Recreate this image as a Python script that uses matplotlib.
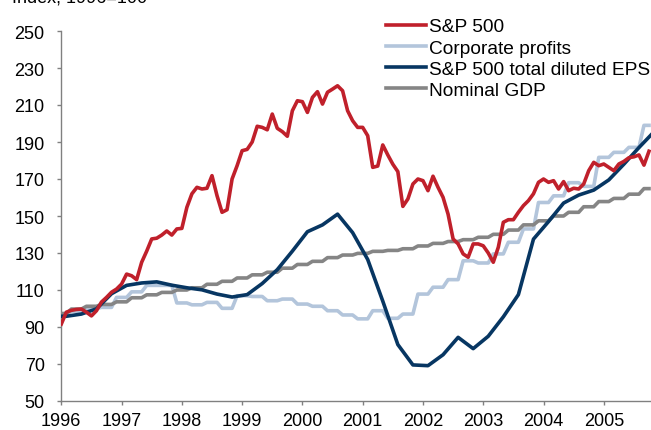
import numpy as np
import matplotlib
matplotlib.use("Agg")
import matplotlib.pyplot as plt

plt.rcParams['font.family'] = ['Liberation Sans', 'DejaVu Sans']

# ---------------- data ----------------
labels = ["S&P 500", "Corporate profits", "S&P 500 total diluted EPS", "Nominal GDP"]
title = "Index, 1996=100"
year_ticks = [1996, 1997, 1998, 1999, 2000, 2001, 2002, 2003, 2004, 2005]
y_ticks = [50, 70, 90, 110, 130, 150, 170, 190, 210, 230, 250]

# monthly, Jan 1996 ..
sp500 = [91.6, 98, 99, 99.5, 99.7, 98, 96, 98.8, 103.5, 106,
         108.8, 110.5, 113.2, 118.6, 117.7, 115.6, 125, 131, 137.6, 138,
         139.7, 141.9, 139.7, 143, 143.3, 154.7, 162, 165.5, 164.6, 165,
         171.8, 161, 152, 153.4, 170, 177.2, 185.3, 186, 190, 198.5,
         197.9, 196.6, 205.1, 197.4, 195.6, 193.1, 206.9, 212.3, 211.8, 206,
         214.1, 217.2, 210.5, 216.9, 218.6, 220.4, 217.7, 206.9, 201.5, 197.9,
         197.9, 193.4, 176.3, 177, 188.4, 183, 178, 174, 155.2, 159.2,
         167.3, 170, 169.1, 163.7, 171.5, 165.5, 160.1, 151, 137.6, 134.9,
         129.5, 127.7, 134.9, 134.9, 133.9, 130, 125, 133.1, 146.6, 148,
         148, 152, 155.6, 158.3, 162, 168.2, 170, 168.2, 169.1, 164.6,
         168.6, 163.7, 165, 164.6, 167.3, 174.5, 179, 177.2, 178.1, 176.3,
         174.5, 178.1, 179.5, 181.5, 182, 183, 177.5, 185]

# quarterly values (held for the months of each quarter)
profits_q = [97, 98.5, 100, 100.6, 106, 109, 112.5, 112.5, 103, 102,
             103.3, 100.1, 106.9, 106.5, 104.2, 105.1, 102.4, 101.2, 98.8, 96.5,
             94.4, 98.8, 94.7, 97, 107.8, 111.5, 115.6, 125.8, 124.6, 129.5,
             135.8, 143, 157.3, 160.9, 168, 166, 181.7, 184.4, 187.1, 199]

gdp_q = [97.3, 99.7, 101.2, 102.2, 103.6, 105.8, 107.4, 108.7, 110, 111.2,
         113.1, 114.7, 116.5, 118.2, 119.6, 121.8, 123.8, 125.5, 127.5, 128.9,
         129.8, 130.9, 131.4, 132.3, 133.8, 135.2, 136.2, 137.2, 138.5, 140.1,
         142.4, 145.2, 147.4, 150, 152, 155, 157.8, 159.5, 161.8, 164.8]

# EPS: value at Jan 1996, then one value per quarter (mid-quarter month)
eps_start = 95.8
eps_q = [95.8, 97, 99.8, 108, 112.5, 113.8, 114.4, 112.6, 111.2, 110.1,
         107.8, 106.2, 107.5, 113.5, 121, 131, 141.5, 145.2, 151, 141,
         126.5, 104, 80.5, 69.5, 69.1, 75, 84.4, 78.3, 85, 95.5,
         107.5, 137.5, 147, 157, 161.3, 164, 169.5, 178, 187, 195.5]

colors = {"sp": "#C0202B", "prof": "#B3C5DB", "eps": "#073662", "gdp": "#858585"}

# ---------------- build series ----------------
n = len(sp500)
months = np.arange(n)
t = 1996 + months / 12.0
qidx = (months + 1) // 3
profits = np.asarray(profits_q)[qidx]
gdp = np.asarray(gdp_q)[qidx]
eps_t = np.concatenate([[1996.0], 1996 + (3 * np.arange(len(eps_q)) + 1) / 12.0])
eps = np.concatenate([[eps_start], eps_q])

# ---------------- figure ----------------
W, H = 651, 431
fig = plt.figure(figsize=(W / 100, H / 100), dpi=100)
ax = fig.add_axes([61.3 / W, (H - 402) / H, (W - 61.3) / W, (402 - 32) / H])

lw = 2.6
l_prof, = ax.plot(t, profits, color=colors["prof"], lw=lw, solid_joinstyle='round', zorder=2)
l_gdp, = ax.plot(t, gdp, color=colors["gdp"], lw=lw, solid_joinstyle='round', zorder=3)
l_eps, = ax.plot(eps_t, eps, color=colors["eps"], lw=lw, solid_joinstyle='round', zorder=4)
l_sp, = ax.plot(t, sp500, color=colors["sp"], lw=lw, solid_joinstyle='round', zorder=5)

ax.set_xlim(1996, 1996 + 117.4 / 12)
ax.set_ylim(50, 250)
ax.set_xticks(year_ticks)
ax.set_xticklabels([str(y) for y in year_ticks])
ax.set_yticks(y_ticks)

for s in ['top', 'right']:
    ax.spines[s].set_visible(False)
for s in ['left', 'bottom']:
    ax.spines[s].set_color('#808080')
    ax.spines[s].set_linewidth(1.0)
ax.tick_params(axis='both', colors='#808080', labelcolor='black', labelsize=13,
               length=3, width=1.0, direction='out')
ax.tick_params(axis='y', pad=9)
ax.tick_params(axis='x', pad=5)

leg = fig.legend([l_sp, l_prof, l_eps, l_gdp], labels,
                 loc='upper left', bbox_to_anchor=(386 / W, 1 - 19 / H),
                 bbox_transform=fig.transFigure, frameon=False,
                 fontsize=13.8, handlelength=2.08, handletextpad=0.17,
                 labelspacing=0.2, borderpad=0, borderaxespad=0)

fig.text(12 / W, 1 - 2.5 / H, title, fontsize=13, va='baseline', ha='left')

fig.savefig("out.png", dpi=100)
